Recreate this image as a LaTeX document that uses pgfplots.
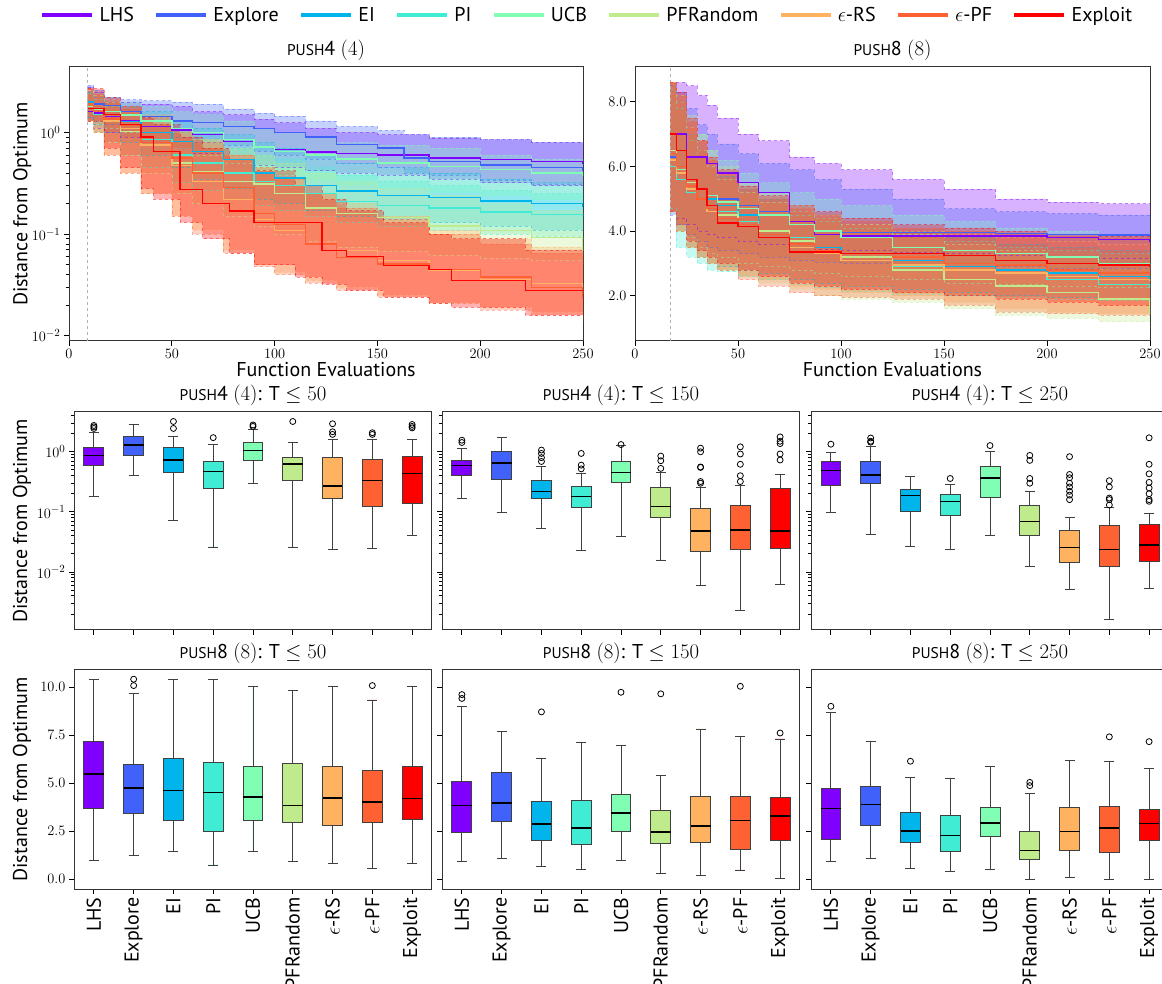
\documentclass[border=0pt]{standalone}
\usepackage[no-math]{fontspec}
\setmainfont{PT Sans}
\usepackage{pgfplots}
\pgfplotsset{compat=1.18}
\usepackage{pgfplotstable}
\usepgfplotslibrary{fillbetween,statistics}

\definecolor{cLHS}{HTML}{8000FF}
\definecolor{cExp}{HTML}{4062FA}
\definecolor{cEI}{HTML}{00B5EB}
\definecolor{cPI}{HTML}{40ECD4}
\definecolor{cUCB}{HTML}{80FFB4}
\definecolor{cPFR}{HTML}{C0EB8D}
\definecolor{cERS}{HTML}{FFB360}
\definecolor{cEPF}{HTML}{FF6232}
\definecolor{cXpl}{HTML}{FF0000}

\newcommand{\labfont}{\fontsize{20}{24}\selectfont}
\newcommand{\ticfont}{\fontsize{15.5}{18}\selectfont}
\newcommand{\push}[1]{{\fontsize{15.5}{18}\selectfont PUSH}#1}

\pgfplotsset{boxplot/draw direction=y}
\pgfplotsset{boxplot/box extend=0.5}
\pgfplotsset{boxplot/whisker extend=0.25}
\pgfplotsset{boxplot/every median/.style={draw=black, line width=1.3pt}}

\newcommand{\band}[3]{%
 \addplot[const plot, draw=#2, draw opacity=0.45, dashed, line width=0.6pt, name path=U#3, forget plot] table[x=x,y=hi]{#1};
 \addplot[const plot, draw=#2, draw opacity=0.45, dashed, line width=0.6pt, name path=L#3, forget plot] table[x=x,y=lo]{#1};
 \addplot[fill=#2, fill opacity=0.3, draw=none, forget plot] fill between[of=U#3 and L#3];
}
\newcommand{\med}[2]{\addplot[const plot, draw=#2, line width=1.4pt] table[x=x,y=med]{#1};}
\newcommand{\bx}[8]{\addplot[boxplot prepared={draw position=#1, lower whisker=#2, lower quartile=#3, median=#4, upper quartile=#5, upper whisker=#6}, fill=#7, draw=black!75, line width=0.9pt, mark=o, mark size=3pt, mark options={draw=black, fill=none, line width=0.8pt, solid}] coordinates {#8};}

% ---------------- top-left (push4) ----------------
\pgfplotstableread{
x med lo hi
9 1.6 1.3 2.8
12 1.55 1.1 2.5
17 1.43 1.0 2.2
25 1.3 0.9 2.0
35 1.15 0.8 1.9
50 1.06 0.7 1.8
60 0.95 0.62 1.6
75 0.81 0.55 1.5
90 0.72 0.48 1.35
100 0.68 0.45 1.25
115 0.64 0.42 1.1
130 0.62 0.40 1.0
150 0.60 0.38 0.95
175 0.56 0.35 0.88
200 0.54 0.32 0.85
225 0.52 0.30 0.80
250 0.49 0.29 0.72
}\TLa
\pgfplotstableread{
x med lo hi
9 2.0 1.4 2.9
12 1.9 1.3 2.6
17 1.85 1.2 2.2
25 1.6 1.1 2.1
35 1.43 1.0 2.05
50 1.3 0.9 2.0
60 1.25 0.8 1.9
75 1.15 0.75 1.7
90 1.1 0.65 1.55
100 1.0 0.6 1.45
115 0.9 0.55 1.3
130 0.76 0.5 1.15
150 0.7 0.45 1.05
163 0.56 0.4 0.95
175 0.52 0.38 0.9
200 0.48 0.34 0.85
225 0.45 0.31 0.8
250 0.415 0.29 0.75
}\TLb
\pgfplotstableread{
x med lo hi
9 2.0 1.4 2.5
12 1.7 1.2 2.2
17 1.5 1.0 2.0
25 1.28 0.8 1.8
35 1.0 0.6 1.6
50 0.81 0.45 1.3
60 0.65 0.35 1.1
75 0.54 0.28 0.95
90 0.40 0.22 0.8
100 0.357 0.2 0.7
115 0.30 0.17 0.6
130 0.265 0.15 0.5
150 0.24 0.14 0.45
175 0.23 0.13 0.4
200 0.212 0.12 0.35
225 0.20 0.11 0.32
250 0.186 0.10 0.30
}\TLc
\pgfplotstableread{
x med lo hi
9 1.8 1.3 2.4
12 1.5 1.0 2.1
17 1.3 0.8 1.8
25 1.1 0.6 1.5
35 0.85 0.45 1.3
50 0.6 0.32 1.0
60 0.5 0.27 0.85
75 0.40 0.22 0.7
90 0.33 0.19 0.6
100 0.30 0.17 0.55
115 0.25 0.15 0.45
130 0.21 0.13 0.38
150 0.19 0.12 0.33
175 0.18 0.11 0.30
200 0.165 0.10 0.27
225 0.155 0.095 0.25
250 0.149 0.09 0.23
}\TLd
\pgfplotstableread{
x med lo hi
9 1.8 1.3 2.6
12 1.7 1.2 2.4
17 1.6 1.1 2.2
25 1.49 1.0 2.0
35 1.3 0.85 1.8
50 1.1 0.7 1.6
60 1.0 0.6 1.5
75 0.85 0.5 1.3
90 0.72 0.42 1.1
100 0.65 0.38 1.0
115 0.6 0.34 0.9
130 0.55 0.31 0.8
150 0.5 0.28 0.75
175 0.46 0.26 0.7
200 0.43 0.24 0.6
225 0.4 0.22 0.55
250 0.37 0.2 0.5
}\TLe
\pgfplotstableread{
x med lo hi
9 1.9 1.3 2.6
12 1.6 1.0 2.3
17 1.3 0.8 2.0
25 1.02 0.6 1.6
35 0.8 0.4 1.3
50 0.5 0.25 1.0
60 0.415 0.2 0.85
75 0.33 0.15 0.7
90 0.31 0.12 0.6
100 0.25 0.1 0.5
115 0.18 0.085 0.4
130 0.16 0.075 0.33
150 0.146 0.068 0.28
175 0.12 0.062 0.24
200 0.108 0.058 0.2
225 0.093 0.055 0.17
250 0.069 0.05 0.15
}\TLf
\pgfplotstableread{
x med lo hi
9 1.9 1.3 2.7
12 1.6 1.0 2.4
17 1.3 0.6 2.1
25 1.1 0.4 1.8
35 0.75 0.25 1.5
50 0.47 0.15 1.1
60 0.33 0.11 0.85
75 0.22 0.07 0.6
90 0.14 0.05 0.45
100 0.108 0.042 0.35
115 0.08 0.035 0.25
130 0.069 0.03 0.2
150 0.055 0.025 0.15
175 0.044 0.021 0.11
200 0.036 0.019 0.09
225 0.0326 0.017 0.075
250 0.026 0.014 0.065
}\TLg
\pgfplotstableread{
x med lo hi
9 1.9 1.3 2.7
12 1.6 1.0 2.4
17 1.35 0.6 2.0
25 1.18 0.4 1.7
35 0.8 0.25 1.4
50 0.56 0.15 1.0
60 0.4 0.1 0.8
75 0.286 0.065 0.6
90 0.16 0.048 0.45
100 0.125 0.04 0.35
115 0.08 0.033 0.25
130 0.059 0.028 0.18
150 0.051 0.024 0.14
175 0.045 0.021 0.1
200 0.038 0.018 0.08
225 0.03 0.016 0.065
250 0.0233 0.013 0.055
}\TLh
\pgfplotstableread{
x med lo hi
9 1.72 1.3 2.7
17 1.5 0.7 2.2
25 1.2 0.45 1.8
35 0.9 0.28 1.4
41 0.65 0.22 1.2
54 0.275 0.13 0.9
65 0.2 0.09 0.7
78 0.169 0.065 0.55
90 0.13 0.05 0.42
110 0.13 0.038 0.3
123 0.069 0.032 0.22
135 0.06 0.028 0.17
153 0.049 0.024 0.13
175 0.045 0.021 0.1
186 0.035 0.019 0.09
222 0.028 0.016 0.07
250 0.0275 0.015 0.06
}\TLi

% ---------------- top-right (push8) ----------------
\pgfplotstableread{
x med lo hi
17 7.0 4.6 8.6
20 7.0 4.4 8.6
25 6.3 4.2 8.5
30 6.3 4.0 8.2
35 6.1 3.9 7.9
40 5.8 3.8 7.5
50 5.5 3.7 7.0
60 5.2 3.6 6.8
75 4.3 3.5 6.3
87 3.9 3.45 6.1
100 3.85 3.4 5.9
125 3.85 3.35 5.6
150 3.85 3.3 5.3
175 3.85 3.25 5.0
200 3.8 3.2 4.9
225 3.75 3.15 4.85
250 3.67 3.1 4.8
}\TRa
\pgfplotstableread{
x med lo hi
17 6.3 4.5 8.5
20 6.0 4.2 8.3
25 5.5 3.9 7.8
30 5.3 3.7 7.3
35 5.1 3.5 7.0
40 5.0 3.4 6.7
50 4.8 3.3 6.4
60 4.6 3.2 6.1
75 4.2 3.1 5.9
87 4.0 3.05 5.6
100 3.95 3.0 5.3
125 3.95 2.95 5.0
150 3.95 2.9 4.7
175 3.92 2.9 4.6
200 3.9 2.85 4.55
225 3.88 2.85 4.5
250 3.87 2.8 4.5
}\TRb
\pgfplotstableread{
x med lo hi
17 6.0 4.6 8.6
20 5.8 4.0 8.0
25 5.5 3.5 7.0
30 5.3 3.2 6.5
35 5.0 3.0 6.0
40 4.8 2.9 5.7
50 4.5 2.8 5.3
60 4.0 2.7 5.0
75 3.6 2.5 4.6
87 3.5 2.4 4.4
100 3.3 2.3 4.2
125 3.1 2.2 4.0
150 2.9 2.1 3.8
175 2.8 2.0 3.6
200 2.7 1.95 3.5
225 2.6 1.9 3.4
250 2.5 1.85 3.3
}\TRc
\pgfplotstableread{
x med lo hi
17 6.0 4.7 8.4
20 5.6 3.5 7.8
25 5.2 3.2 6.8
30 5.0 3.0 6.3
35 4.8 2.8 6.0
40 4.6 2.75 5.6
50 4.3 2.6 5.2
60 4.0 2.5 4.9
75 3.8 2.35 4.5
87 3.4 2.25 4.3
100 3.1 2.15 4.1
125 2.9 2.05 3.9
150 2.8 2.0 3.7
175 2.7 1.95 3.5
200 2.5 1.9 3.4
225 2.35 1.85 3.3
250 2.25 1.8 3.2
}\TRd
\pgfplotstableread{
x med lo hi
17 6.2 4.6 8.6
20 5.9 4.2 8.2
25 5.5 3.8 7.5
30 5.3 3.5 7.0
35 5.1 3.3 6.5
40 4.9 3.2 6.2
50 4.7 3.0 5.8
60 4.5 2.9 5.5
75 4.2 2.8 5.2
87 4.0 2.7 5.0
100 3.8 2.6 4.8
125 3.5 2.5 4.5
150 3.4 2.4 4.3
175 3.3 2.35 4.1
200 3.2 2.3 4.0
225 3.0 2.25 3.9
250 2.9 2.2 3.8
}\TRe
\pgfplotstableread{
x med lo hi
17 6.5 4.6 8.6
20 6.0 4.0 8.2
25 5.5 3.5 7.6
30 5.0 3.2 7.0
35 4.8 3.0 6.5
40 4.5 2.8 6.0
50 4.2 2.6 5.5
60 4.0 2.4 5.2
75 3.7 2.2 4.8
87 3.4 2.0 4.5
100 3.2 1.9 4.2
125 2.8 1.8 3.9
150 2.5 1.6 3.6
175 2.3 1.4 3.4
200 2.1 1.3 3.2
225 1.9 1.2 3.0
250 1.45 1.0 2.8
}\TRf
\pgfplotstableread{
x med lo hi
17 6.2 4.6 8.6
20 5.8 4.0 8.0
25 5.3 3.5 7.2
30 5.0 3.2 6.5
35 4.6 3.0 6.0
40 4.4 2.8 5.6
50 4.2 2.6 5.2
60 3.9 2.5 4.9
75 3.5 2.3 4.6
87 3.3 2.2 4.4
100 3.1 2.1 4.2
125 2.95 2.0 4.0
150 2.8 1.8 3.9
175 2.7 1.6 3.8
200 2.6 1.5 3.7
225 2.5 1.45 3.6
250 2.45 1.4 3.5
}\TRg
\pgfplotstableread{
x med lo hi
17 6.4 4.6 8.6
20 6.0 4.0 8.2
25 5.4 3.5 7.4
30 5.0 3.2 6.8
35 4.7 3.0 6.2
40 4.4 2.8 5.8
50 4.2 2.5 5.3
60 3.9 2.3 5.0
75 3.6 2.1 4.7
87 3.4 2.0 4.5
100 3.3 1.95 4.3
125 3.2 1.9 4.1
150 3.0 1.7 4.0
175 2.95 1.5 3.9
200 2.8 1.45 3.85
225 2.7 1.4 3.8
250 2.65 1.4 3.75
}\TRh
\pgfplotstableread{
x med lo hi
17 7.0 4.6 8.6
20 6.5 4.2 8.3
25 5.6 3.7 7.5
30 5.3 3.4 6.8
35 4.8 3.2 6.3
40 4.25 3.0 5.9
50 4.15 2.8 5.4
60 3.8 2.6 5.1
75 3.35 2.4 4.8
87 3.35 2.3 4.6
100 3.3 2.2 4.4
125 3.3 2.1 4.2
150 3.25 2.0 4.1
175 3.1 1.9 4.0
200 3.0 1.8 3.9
225 2.95 1.7 3.85
250 2.9 1.65 3.8
}\TRi

\pgfplotsset{
 base/.style={scale only axis, axis line style={black!80, line width=1pt},
   tick align=outside, tick pos=left, major tick length=5pt, minor tick length=3pt,
   every tick/.style={black, line width=0.8pt},
   tick label style={font=\ticfont}, label style={font=\labfont},
   title style={font=\labfont, at={(0.5,1)}, anchor=base, yshift=5pt}},
 curve/.style={base, xmin=0, xmax=250, xtick={0,50,...,250}, width=514pt, height=274pt,
   xlabel={Function Evaluations}, xlabel style={at={(axis description cs:0.5,-0.104)}, anchor=center}},
 boxrow/.style={base, xmin=0.5, xmax=9.5, xtick={1,...,9}, width=358pt},
 midrow/.style={boxrow, height=218pt, ymin=-2.967, ymax=0.663, ytick={-2,-1,0},
   yticklabels={$10^{-2}$,$10^{-1}$,$10^{0}$}, xticklabels={},
   minor ytick={-2.699,-2.523,-2.398,-2.301,-2.222,-2.155,-2.097,-2.046,
     -1.699,-1.523,-1.398,-1.301,-1.222,-1.155,-1.097,-1.046,
     -0.699,-0.523,-0.398,-0.301,-0.222,-0.155,-0.097,-0.046,0.301,0.477,0.602}},
 botrow/.style={boxrow, height=219pt, ymin=-0.52, ymax=10.88, ytick={0,2.5,5,7.5,10},
   yticklabel style={/pgf/number format/.cd, fixed, fixed zerofill, precision=1},
   xticklabels={LHS,Explore,EI,PI,UCB,PFRandom,$\epsilon$-RS,$\epsilon$-PF,Exploit},
   xticklabel style={font=\labfont, rotate=90, anchor=east}},
 ylab/.style={ylabel={Distance from Optimum}, ylabel style={at={(axis description cs:#1,0.5)}, anchor=center}},
}

\begin{document}
\begin{tikzpicture}

% ===== top-left =====
\begin{axis}[curve, at={(69pt,642pt)}, anchor=south west, ymode=log, ymin=0.0089, ymax=4.4,
  ytick={0.01,0.1,1}, title={\push{4} $(4)$}, ylab=-0.091,
  legend columns=9,
  legend style={at={(1.008,1.19)}, anchor=center, draw=none, fill=none, font=\labfont,
    /tikz/every odd column/.append style={column sep=3pt},
    /tikz/every even column/.append style={column sep=18pt}},
  legend image code/.code={\draw[#1, line width=4.5pt, solid] (0pt,0pt) -- (50pt,0pt);}]
\addplot[gray!60, dashed, line width=0.7pt, forget plot] coordinates {(9,0.0089) (9,4.4)};
\band{\TLa}{cLHS}{a1}\band{\TLb}{cExp}{b1}\band{\TLc}{cEI}{c1}
\band{\TLd}{cPI}{d1}\band{\TLe}{cUCB}{e1}\band{\TLf}{cPFR}{f1}
\band{\TLg}{cERS}{g1}\band{\TLh}{cEPF}{h1}\band{\TLi}{cXpl}{i1}
\med{\TLa}{cLHS}\med{\TLb}{cExp}\med{\TLc}{cEI}\med{\TLd}{cPI}\med{\TLe}{cUCB}
\med{\TLf}{cPFR}\med{\TLg}{cERS}\med{\TLh}{cEPF}\med{\TLi}{cXpl}
\legend{LHS,Explore,EI,PI,UCB,PFRandom,$\epsilon$-RS,$\epsilon$-PF,Exploit}
\end{axis}

% ===== top-right =====
\begin{axis}[curve, at={(635pt,642pt)}, anchor=south west, width=515pt, ymin=0.6, ymax=9.08,
  ytick={2,4,6,8}, yticklabel style={/pgf/number format/.cd, fixed, fixed zerofill, precision=1},
  title={\push{8} $(8)$}]
\addplot[gray!60, dashed, line width=0.7pt, forget plot] coordinates {(17,0.6) (17,9.08)};
\band{\TRa}{cLHS}{a2}\band{\TRb}{cExp}{b2}\band{\TRc}{cEI}{c2}
\band{\TRd}{cPI}{d2}\band{\TRe}{cUCB}{e2}\band{\TRf}{cPFR}{f2}
\band{\TRg}{cERS}{g2}\band{\TRh}{cEPF}{h2}\band{\TRi}{cXpl}{i2}
\med{\TRa}{cLHS}\med{\TRb}{cExp}\med{\TRc}{cEI}\med{\TRd}{cPI}\med{\TRe}{cUCB}
\med{\TRf}{cPFR}\med{\TRg}{cERS}\med{\TRh}{cEPF}\med{\TRi}{cXpl}
\end{axis}

% ===== middle row: push4 (values are log10 of the distance) =====
\begin{axis}[midrow, at={(74pt,353pt)}, anchor=south west, ylab=-0.145,
  title={\push{4} $(4)$: T $\leq 50$}]
\bx{1}{-0.745}{-0.222}{-0.056}{0.068}{0.322}{cLHS}{(1,0.439)(1,0.415)(1,0.389)}
\bx{2}{-0.398}{-0.056}{0.114}{0.262}{0.462}{cExp}{}
\bx{3}{-1.149}{-0.341}{-0.137}{0.072}{0.262}{cEI}{(3,0.505)(3,0.389)}
\bx{4}{-1.585}{-0.602}{-0.330}{-0.161}{0.127}{cPI}{(4,0.236)}
\bx{5}{-0.523}{-0.137}{0.017}{0.149}{0.380}{cUCB}{(5,0.447)(5,0.423)}
\bx{6}{-1.585}{-0.469}{-0.201}{-0.092}{0.149}{cPFR}{(6,0.505)}
\bx{7}{-1.629}{-0.770}{-0.569}{-0.102}{0.210}{cERS}{(7,0.467)(7,0.334)(7,0.290)}
\bx{8}{-1.611}{-0.914}{-0.481}{-0.125}{0.210}{cEPF}{(8,0.318)(8,0.290)}
\bx{9}{-1.387}{-0.863}{-0.357}{-0.081}{0.210}{cXpl}{(9,0.455)(9,0.423)(9,0.398)}
\end{axis}
\begin{axis}[midrow, at={(442pt,353pt)}, anchor=south west, yticklabels={},
  title={\push{4} $(4)$: T $\leq 150$}]
\bx{1}{-0.772}{-0.387}{-0.229}{-0.137}{0.061}{cLHS}{(1,0.193)(1,0.155)}
\bx{2}{-1.004}{-0.456}{-0.187}{0.013}{0.238}{cExp}{}
\bx{3}{-1.284}{-0.772}{-0.658}{-0.469}{-0.252}{cEI}{(3,0.029)(3,-0.027)(3,-0.097)(3,-0.161)}
\bx{4}{-1.638}{-0.921}{-0.745}{-0.580}{-0.357}{cPI}{(4,-0.027)(4,-0.222)(4,-0.284)}
\bx{5}{-1.409}{-0.509}{-0.347}{-0.161}{0.100}{cUCB}{(5,0.121)}
\bx{6}{-1.801}{-1.097}{-0.914}{-0.592}{-0.347}{cPFR}{(6,-0.071)(6,-0.149)(6,-0.276)}
\bx{7}{-2.229}{-1.652}{-1.319}{-0.936}{-0.592}{cERS}{(7,0.061)(7,0)(7,-0.252)(7,-0.260)(7,-0.495)(7,-0.523)}
\bx{8}{-2.638}{-1.629}{-1.301}{-0.886}{-0.553}{cEPF}{(8,0.083)(8,-0.036)(8,-0.208)(8,-0.398)(8,-0.495)}
\bx{9}{-2.215}{-1.607}{-1.319}{-0.607}{-0.377}{cXpl}{(9,0.248)(9,0.176)(9,0.137)(9,-0.036)(9,-0.137)}
\end{axis}
\begin{axis}[midrow, at={(811pt,353pt)}, anchor=south west, yticklabels={},
  title={\push{4} $(4)$: T $\leq 250$}]
\bx{1}{-1.018}{-0.553}{-0.310}{-0.167}{-0.018}{cLHS}{(1,0.127)}
\bx{2}{-1.377}{-0.530}{-0.387}{-0.155}{0.093}{cExp}{(2,0.230)(2,0.176)(2,0.161)}
\bx{3}{-1.569}{-1.0}{-0.730}{-0.631}{-0.415}{cEI}{}
\bx{4}{-1.620}{-1.060}{-0.830}{-0.712}{-0.542}{cPI}{(4,-0.444)}
\bx{5}{-1.398}{-0.752}{-0.437}{-0.252}{0.013}{cUCB}{(5,0.104)}
\bx{6}{-1.907}{-1.387}{-1.155}{-0.900}{-0.652}{cPFR}{(6,-0.060)(6,-0.143)(6,-0.444)(6,-0.523)}
\bx{7}{-2.292}{-1.839}{-1.590}{-1.310}{-1.086}{cERS}{(7,-0.081)(7,-0.377)(7,-0.432)(7,-0.523)(7,-0.585)(7,-0.658)(7,-0.721)(7,-0.796)}
\bx{8}{-2.785}{-1.910}{-1.623}{-1.222}{-0.928}{cEPF}{(8,-0.481)(8,-0.585)(8,-0.770)(8,-0.796)(8,-0.886)}
\bx{9}{-2.268}{-1.818}{-1.553}{-1.208}{-1.022}{cXpl}{(9,0.233)(9,-0.208)(9,-0.367)(9,-0.509)(9,-0.602)(9,-0.699)(9,-0.796)(9,-0.824)}
\end{axis}

% ===== bottom row: push8 =====
\begin{axis}[botrow, at={(74pt,94pt)}, anchor=south west, ylab=-0.145,
  title={\push{8} $(8)$: T $\leq 50$}]
\bx{1}{0.95}{3.68}{5.47}{7.15}{10.38}{cLHS}{}
\bx{2}{1.23}{3.39}{4.74}{5.97}{9.65}{cExp}{(2,10.4)(2,10.07)}
\bx{3}{1.42}{3.04}{4.6}{6.25}{10.38}{cEI}{}
\bx{4}{0.73}{2.47}{4.51}{6.08}{10.38}{cPI}{}
\bx{5}{1.42}{3.07}{4.27}{5.87}{10.03}{cUCB}{}
\bx{6}{0.9}{2.92}{3.84}{6.02}{9.79}{cPFR}{}
\bx{7}{0.82}{2.81}{4.22}{5.85}{10.03}{cERS}{}
\bx{8}{0.54}{2.95}{4.01}{5.66}{9.32}{cEPF}{(8,10.07)}
\bx{9}{0.83}{3.09}{4.2}{5.87}{10.03}{cXpl}{}
\end{axis}
\begin{axis}[botrow, at={(442pt,94pt)}, anchor=south west, yticklabels={},
  title={\push{8} $(8)$: T $\leq 150$}]
\bx{1}{0.92}{2.4}{3.82}{5.09}{8.99}{cLHS}{(1,9.6)(1,9.4)}
\bx{2}{1.06}{3.02}{3.96}{5.57}{7.66}{cExp}{}
\bx{3}{0.64}{2.01}{2.86}{4.06}{6.25}{cEI}{(3,8.7)}
\bx{4}{0.49}{1.79}{2.66}{4.11}{7.12}{cPI}{}
\bx{5}{0.97}{2.45}{3.44}{4.38}{6.96}{cUCB}{(5,9.72)}
\bx{6}{0.31}{1.84}{2.45}{3.59}{5.4}{cPFR}{(6,9.64)}
\bx{7}{0.19}{1.91}{2.76}{4.32}{7.81}{cERS}{}
\bx{8}{0.47}{1.56}{3.06}{4.31}{7.4}{cEPF}{(8,10.03)}
\bx{9}{0.03}{2.01}{3.28}{4.22}{7.29}{cXpl}{(9,7.6)}
\end{axis}
\begin{axis}[botrow, at={(811pt,94pt)}, anchor=south west, yticklabels={},
  title={\push{8} $(8)$: T $\leq 250$}]
\bx{1}{0.92}{2.05}{3.68}{4.74}{8.68}{cLHS}{(1,8.99)}
\bx{2}{1.06}{2.8}{3.87}{4.83}{7.14}{cExp}{}
\bx{3}{0.54}{1.88}{2.5}{3.49}{5.31}{cEI}{(3,6.13)}
\bx{4}{0.4}{1.42}{2.27}{3.3}{5.24}{cPI}{}
\bx{5}{0.49}{2.2}{2.92}{3.73}{5.87}{cUCB}{}
\bx{6}{0.0}{1.0}{1.49}{2.45}{4.46}{cPFR}{(6,5.03)(6,4.86)}
\bx{7}{0.07}{1.51}{2.48}{3.73}{6.18}{cERS}{}
\bx{8}{0.0}{1.39}{2.66}{3.77}{6.13}{cEPF}{(8,7.4)}
\bx{9}{0.0}{2.01}{2.9}{3.63}{5.73}{cXpl}{(9,7.15)}
\end{axis}
\pgfresetboundingbox
\useasboundingbox (0,0) rectangle (1162pt,983pt);
\end{tikzpicture}
\end{document}
